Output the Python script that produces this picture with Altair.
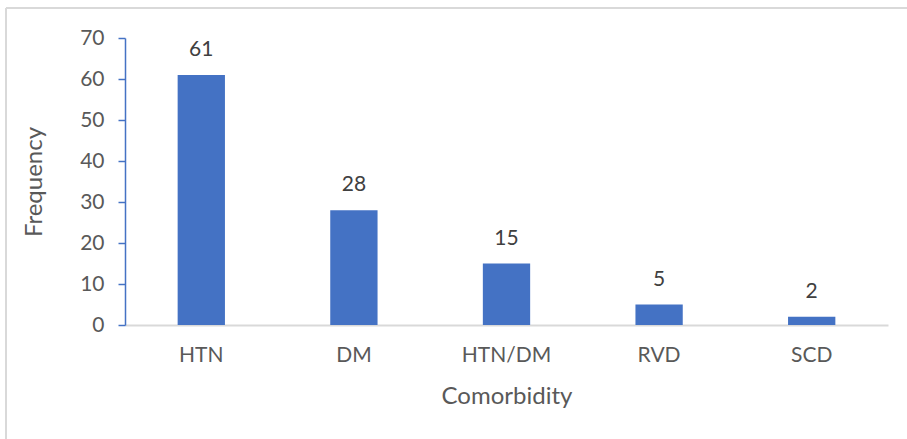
import altair as alt
import pandas as pd

categories = ["HTN", "DM", "HTN/DM", "RVD", "SCD"]
frequency = [61, 28, 15, 5, 2]

df = pd.DataFrame({"Comorbidity": categories, "Frequency": frequency})

FONT = "Lato"
BLUE = "#4472C4"

base = alt.Chart(df)

bars = base.mark_bar(color=BLUE).encode(
    x=alt.X("Comorbidity:N", sort=categories,
            scale=alt.Scale(paddingInner=0.69, paddingOuter=0.345),
            axis=alt.Axis(title="Comorbidity", labelAngle=0, ticks=False,
                          domainColor="#D9D9D9", domainWidth=2,
                          labelFont=FONT, labelFontSize=21, labelColor="#595959",
                          labelPadding=19, titleFont=FONT, titleFontSize=24,
                          titleFontWeight="normal", titleColor="#595959",
                          titlePadding=19)),
    y=alt.Y("Frequency:Q", scale=alt.Scale(domain=[0, 70], nice=False),
            axis=alt.Axis(title="Frequency", values=[0, 10, 20, 30, 40, 50, 60, 70],
                          grid=False, domainColor=BLUE, domainWidth=1.5,
                          tickColor=BLUE, tickSize=7, tickWidth=1.5,
                          labelFont=FONT, labelFontSize=21, labelColor="#595959",
                          labelPadding=14, titleFont=FONT, titleFontSize=24,
                          titleFontWeight="normal", titleColor="#595959",
                          titlePadding=33)),
)

labels = base.mark_text(font=FONT, fontSize=21, color="#404040", dy=-15,
                        baseline="bottom").encode(
    x=alt.X("Comorbidity:N", sort=categories),
    y="Frequency:Q",
    text="Frequency:Q",
)

frame_top = alt.Chart(df.head(1)).mark_rule(color="#D9D9D9", strokeWidth=2).encode(
    x=alt.value(-119), x2=alt.value(800), y=alt.value(-30))
frame_left = alt.Chart(df.head(1)).mark_rule(color="#D9D9D9", strokeWidth=2).encode(
    x=alt.value(-119), y=alt.value(-30), y2=alt.value(420))

chart = (frame_top + frame_left + bars + labels).properties(
    width=763, height=287,
    padding={"left": 125, "top": 38, "right": 19, "bottom": 114},
    autosize=alt.AutoSizeParams(type="none"),
).configure(background="white").configure_view(strokeWidth=0, stroke="transparent")

chart.save("out.html", embed_options={"renderer": "svg", "actions": False})
